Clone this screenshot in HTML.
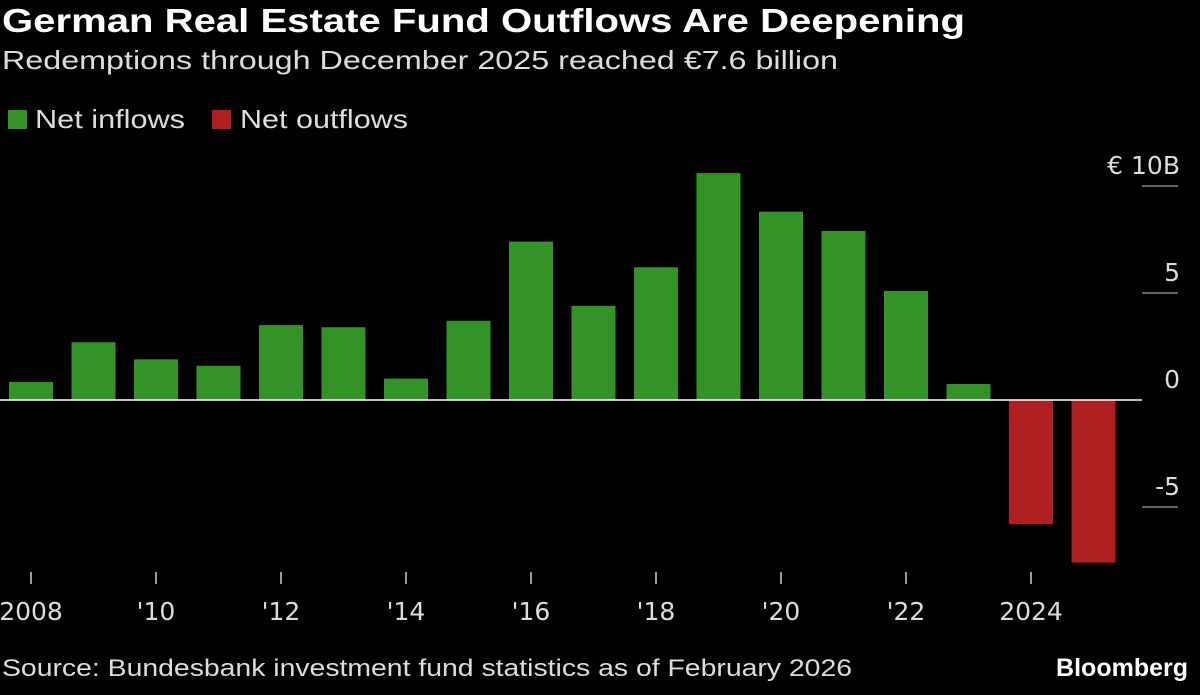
<!DOCTYPE html>
<html><head><meta charset="utf-8"><style>
body{margin:0;background:#000;width:1200px;height:695px;overflow:hidden;font-family:"Liberation Sans",sans-serif;color:#fff}
.t{position:absolute;white-space:nowrap;transform-origin:0 0}
.sq{position:absolute;width:19px;height:19px}
</style></head><body>
<div class="t fit" data-w="963" style="left:2px;top:2px;font-size:33px;font-weight:bold">German Real Estate Fund Outflows Are Deepening</div>
<div class="t fit" data-w="836" style="left:2px;top:45px;font-size:26px;color:#ddd">Redemptions through December 2025 reached €7.6 billion</div>
<div class="sq" style="left:8px;top:110px;background:#339326"></div>
<div class="t fit" data-w="150" style="left:35px;top:104px;font-size:26px;color:#ddd">Net inflows</div>
<div class="sq" style="left:212px;top:110px;background:#b01f1f"></div>
<div class="t fit" data-w="168" style="left:240px;top:104px;font-size:26px;color:#ddd">Net outflows</div>
<svg id="c" width="1200" height="695" style="position:absolute;left:0;top:0"></svg>
<div class="t fit" data-w="850" style="left:2px;top:655px;font-size:24px;color:#ddd">Source: Bundesbank investment fund statistics as of February 2026</div>
<div class="t" style="right:12px;top:654px;font-size:25px;font-weight:bold">Bloomberg</div>
<script>
const years=[2008,2009,2010,2011,2012,2013,2014,2015,2016,2017,2018,2019,2020,2021,2022,2023,2024,2025];
const values=[0.84,2.7,1.9,1.6,3.5,3.4,1.0,3.7,7.4,4.4,6.2,10.6,8.8,7.9,5.1,0.75,-5.8,-7.6];
const yTicks=[10,5,0,-5];
const yTickLabels=["€ 10B","5","0","-5"];
const xTicks=[2008,2010,2012,2014,2016,2018,2020,2022,2024];
const xTickLabels=["2008","'10","'12","'14","'16","'18","'20","'22","2024"];
document.querySelectorAll('.fit').forEach(el=>{const w=el.getBoundingClientRect().width;el.style.transform='scaleX('+(+el.dataset.w/w)+')';});
const svg=document.getElementById('c');const NS='http://www.w3.org/2000/svg';
const y=v=>400-v*21.4;const x=yr=>31+(yr-2008)*62.5;const bw=44;
function mk(t,a){const e=document.createElementNS(NS,t);for(const k in a)e.setAttribute(k,a[k]);svg.appendChild(e);return e;}
years.forEach((yr,i)=>{const v=values[i];
const r=mk('rect',{x:x(yr)-bw/2,y:Math.min(y(v),y(0)),width:bw,height:Math.abs(y(v)-y(0)),fill:v>=0?'#339326':'#b01f1f'});

});
yTicks.forEach((v,i)=>{
if(v!==0){const l=mk('line',{x1:1142,x2:1178,y1:y(v),y2:y(v),stroke:'#ccc','stroke-width':1});

}
const t=mk('text',{x:1180,y:y(v)-12,'text-anchor':'end','font-size':25,fill:'#ddd','font-family':'DejaVu Sans'});
t.textContent=yTickLabels[i];

});
const z=mk('line',{x1:0,x2:1142,y1:y(0),y2:y(0),stroke:'#fff','stroke-width':1.5});


xTicks.forEach((yr,i)=>{
const l=mk('line',{x1:x(yr),x2:x(yr),y1:572,y2:584,stroke:'#ccc','stroke-width':1.5});


const t=mk('text',{x:x(yr),y:620,'text-anchor':'middle','font-size':25,fill:'#ddd','font-family':'DejaVu Sans'});
t.textContent=xTickLabels[i];

});
</script>
</body></html>
